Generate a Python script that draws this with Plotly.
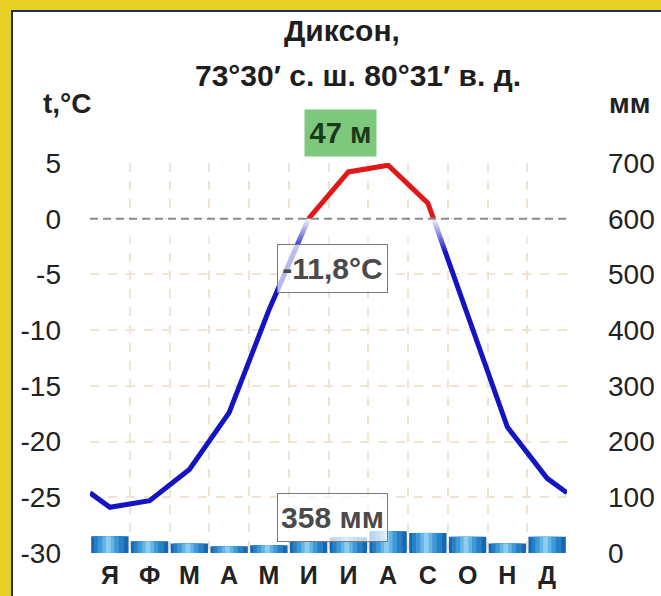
import plotly.graph_objects as go

# данные климатограммы (Диксон)
months = ["Я", "Ф", "М", "А", "М", "И", "И", "А", "С", "О", "Н", "Д"]
temp_c = [-25.9, -25.3, -22.5, -17.4, -8.2, 0.0, 4.2, 4.8, 1.4, -8.5, -18.7, -23.3]
precip_mm = [30, 21, 17, 12, 14, 21, 28, 39, 36, 29, 17, 29]
temp_ticks = [5, 0, -5, -10, -15, -20, -25, -30]
precip_ticks = [700, 600, 500, 400, 300, 200, 100, 0]

station = "Диксон,"
coords = "73°30′ с. ш. 80°31′ в. д."
altitude = "47 м"
mean_temp = "-11,8°C"
total_precip = "358 мм"

FONT = "Liberation Sans, Arial, sans-serif"
W, H = 661, 596
L, R, T, B = 90, 94, 163, 43
PW, PH = W - L - R, H - T - B


def px(x):
    return (x - L) / PW


def py(y):
    return (H - B - y) / PH


pos = list(range(len(months)))

# кривая замыкается по краям (середина между декабрём и январём)
edge = (temp_c[0] + temp_c[-1]) / 2
pts = list(zip([-0.5] + pos + [len(months) - 0.5], [edge] + temp_c + [edge]))

# вставляем точки пересечения нуля, чтобы разделить цвета
seq = [pts[0]]
for (x0, y0), (x1, y1) in zip(pts[:-1], pts[1:]):
    if y0 * y1 < 0:
        xc = x0 + (x1 - x0) * (0 - y0) / (y1 - y0)
        seq.append((xc, 0.0))
    seq.append((x1, y1))

sx = [p[0] for p in seq]
warm_y = [y if y >= 0 else None for _, y in seq]
cold_y = [y if y <= 0 else None for _, y in seq]

fig = go.Figure()

# столбики осадков: несколько наложений дают «объёмный» градиент
bar_layers = [
    (0.94, None, "#1866ad"),
    (0.76, -0.40, "#2680c8"),
    (0.52, -0.30, "#3f98d8"),
    (0.30, -0.19, "#64b4e6"),
    (0.12, -0.10, "#8ccdf0"),
]
for w, off, col in bar_layers:
    fig.add_trace(go.Bar(x=pos, y=precip_mm, yaxis="y2", width=w, offset=off,
                         marker=dict(color=col, line_width=0)))

fig.add_trace(go.Scatter(x=sx, y=cold_y, mode="lines", connectgaps=False,
                         line=dict(color="#1414c4", width=5)))
fig.add_trace(go.Scatter(x=sx, y=warm_y, mode="lines", connectgaps=False,
                         line=dict(color="#e01818", width=5)))

# светлый переход линии у нуля
fade = 3
fig.add_trace(go.Scatter(
    x=[-0.5, len(months) - 0.5, len(months) - 0.5, -0.5], y=[0, 0, -fade, -fade],
    mode="lines", line_width=0, fill="toself", hoverinfo="skip",
    fillgradient=dict(type="vertical", start=-fade, stop=0,
                      colorscale=[[0, "rgba(255,255,255,0)"], [1, "rgba(255,255,255,0.95)"]]),
))

grid = "#efe3d2"
fig.update_layout(
    width=W, height=H,
    margin=dict(l=L, r=R, t=T, b=B, autoexpand=False),
    paper_bgcolor="#e7d126",
    plot_bgcolor="rgba(0,0,0,0)",
    showlegend=False,
    barmode="overlay",
    font=dict(family=FONT, color="#222222"),
    xaxis=dict(range=[-0.5, len(months) - 0.5], tickvals=pos, ticktext=months,
               tickfont=dict(size=25, weight="bold", color="#222222"),
               showgrid=False, zeroline=False, showline=False, ticks="",
               ticklabelstandoff=5,
               minor=dict(tickvals=[p - 0.5 for p in pos] + [len(months) - 0.5],
                          showgrid=True, gridcolor=grid, griddash="dash", gridwidth=1.5)),
    yaxis=dict(range=[min(temp_ticks), max(temp_ticks)], tickvals=temp_ticks,
               ticktext=[str(t) for t in temp_ticks], tickfont=dict(size=28),
               showgrid=True, gridcolor=grid, griddash="dash", gridwidth=1.5,
               zeroline=False, showline=False, ticklabelstandoff=28),
    yaxis2=dict(range=[min(precip_ticks), max(precip_ticks)], tickvals=precip_ticks,
                overlaying="y", side="right", showgrid=False, zeroline=False,
                tickfont=dict(size=28), ticklabelstandoff=40),
)

# белая панель с тёмной рамкой на жёлтом фоне
fig.add_shape(type="rect", xref="paper", yref="paper", layer="below",
              x0=px(12), x1=px(720), y0=py(720), y1=py(11),
              fillcolor="white", line=dict(color="#1d2f6a", width=2))
fig.add_hline(y=0, line=dict(color="#8a8a8a", width=2, dash="8px,5px"))

ann = dict(xref="paper", yref="paper", showarrow=False, xanchor="center", yanchor="middle")
fig.add_annotation(**ann, x=px(342), y=py(30), text=station,
                   font=dict(size=30, weight="bold", color="#1e1e1e"))
fig.add_annotation(**ann, x=px(358), y=py(76), text=coords,
                   font=dict(size=30, weight="bold", color="#1e1e1e"))
fig.add_annotation(**ann, x=px(67), y=py(103), text="t,°C",
                   font=dict(size=28, weight="bold", color="#222222"))
fig.add_annotation(**ann, x=px(629), y=py(103), text="мм",
                   font=dict(size=28, weight="bold", color="#222222"))
fig.add_annotation(**ann, x=px(340.5), y=py(133), text=altitude,
                   font=dict(size=29, weight="bold", color="#1a3a1a"),
                   bgcolor="#7ec87e", width=67, height=42, borderpad=2)
fig.add_annotation(**ann, x=px(332.5), y=py(268.5), text=mean_temp,
                   font=dict(size=30, weight="bold", color="#4a4a4a"),
                   bgcolor="rgba(255,255,255,0.7)", bordercolor="#7a7a7a", borderwidth=1,
                   width=105, height=43, borderpad=2)
fig.add_annotation(**ann, x=px(332.5), y=py(517.5), text=total_precip,
                   font=dict(size=30, weight="bold", color="#4a4a4a"),
                   bgcolor="rgba(255,255,255,0.7)", bordercolor="#7a7a7a", borderwidth=1,
                   width=105, height=43, borderpad=2)

fig.write_html("out.html", config={"displayModeBar": False},
               post_script="document.body.style.margin='0';")
